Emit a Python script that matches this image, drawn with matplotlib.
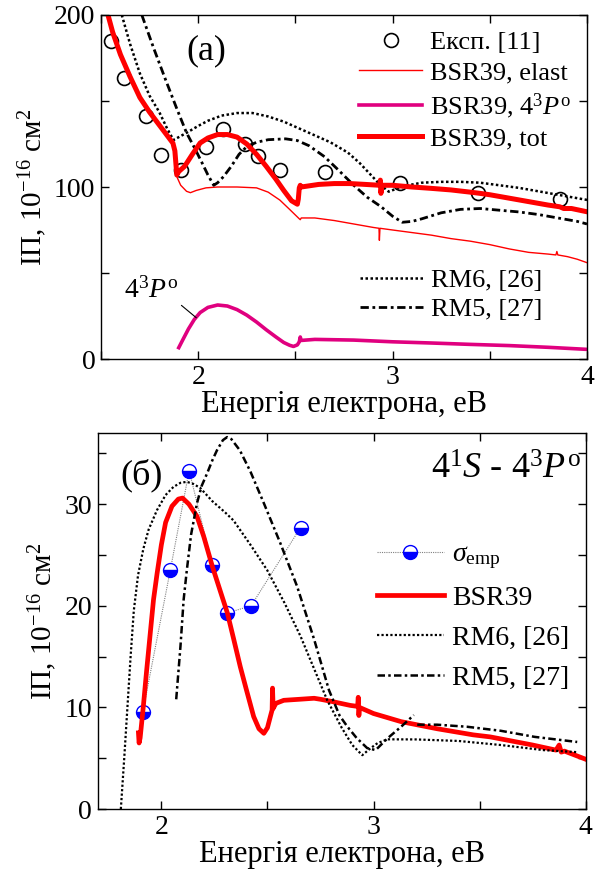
import numpy as np
import matplotlib
matplotlib.use("Agg")
import matplotlib.pyplot as plt
from matplotlib.ticker import MultipleLocator

plt.rcParams['font.family'] = ['Liberation Serif', 'DejaVu Serif']
plt.rcParams['mathtext.fontset'] = 'custom'
plt.rcParams['mathtext.rm'] = 'Liberation Serif'
plt.rcParams['mathtext.it'] = 'Liberation Serif:italic'
plt.rcParams['font.size'] = 20

# ---- панель (а): повний переріз ----
exp_x = [1.55, 1.62, 1.73, 1.81, 1.91, 2.04, 2.13, 2.24, 2.31, 2.42, 2.65, 3.04, 3.44, 3.86]
exp_y = [185, 163.5, 141, 118.6, 110, 123, 133.5, 125, 118, 110, 109, 102.5, 96.5, 93]

tot_x = [1.536, 1.56, 1.60, 1.65, 1.70, 1.75, 1.80, 1.84, 1.87, 1.88, 1.89, 1.90, 1.93, 1.97,
         2.01, 2.05, 2.10, 2.15, 2.20, 2.25, 2.30, 2.35, 2.40, 2.44, 2.48, 2.51, 2.515, 2.52,
         2.525, 2.53, 2.56, 2.62, 2.70, 2.78, 2.86, 2.935, 2.937, 2.94, 2.945, 3.0, 3.1, 3.2,
         3.3, 3.4, 3.45, 3.5, 3.6, 3.7, 3.8, 3.86, 3.88, 3.92, 4.0]
tot_y = [200, 190, 177, 164, 152, 143.5, 136, 130, 125.5, 121, 107, 109, 112, 119,
         125.6, 128.5, 130.5, 130.5, 129, 125, 119, 112, 104.5, 98, 92, 90, 93, 99.5,
         101, 100, 100.5, 101.5, 102, 102, 101.5, 101, 104, 96.3, 101, 101, 100, 99.2,
         98.3, 97, 96.3, 95.5, 93.5, 91.5, 89.5, 88.5, 87.5, 87.5, 85.6]

el_x = [1.87, 1.885, 1.89, 1.91, 1.94, 1.96, 1.99, 2.04, 2.1, 2.2, 2.3, 2.36, 2.42, 2.47, 2.52,
        2.525, 2.53, 2.6, 2.7, 2.8, 2.9, 2.93, 2.932, 2.935, 3.0, 3.1, 3.2, 3.3, 3.4, 3.5, 3.6,
        3.7, 3.8, 3.84, 3.845, 3.85, 3.9, 3.95, 4.0]
el_y = [125.5, 118, 106, 101, 97.5, 96.7, 98, 99.5, 100, 100, 99.5, 97, 92.4, 87, 81.5,
        81, 82, 82, 80.5, 78.5, 76.5, 76, 69, 76, 75, 73.5, 72, 70, 68.5, 66.5, 64,
        62, 61, 60.5, 62.5, 60.5, 59.5, 58, 56]

p3_x = [1.90, 1.92, 1.95, 1.98, 2.01, 2.05, 2.10, 2.15, 2.20, 2.25, 2.30, 2.35, 2.40, 2.44,
        2.47, 2.49, 2.51, 2.52, 2.525, 2.53, 2.6, 2.8, 3.0, 3.2, 3.4, 3.6, 3.8, 4.0]
p3_y = [6.6, 11, 17.5, 23, 27, 30, 31.4, 30.8, 28.7, 25.5, 21.5, 17, 12.8, 9.6,
        8, 7.3, 8.2, 10, 12.8, 10.8, 11.4, 11, 10, 9.3, 8.5, 7.8, 6.8, 5.6]

rm6a_x = [1.607, 1.65, 1.70, 1.75, 1.80, 1.84, 1.873, 1.90, 1.94, 2.0, 2.05, 2.12, 2.2, 2.28,
          2.36, 2.44, 2.52, 2.60, 2.68, 2.77, 2.83, 2.88, 2.93, 2.98, 3.02, 3.08, 3.15, 3.25,
          3.35, 3.45, 3.55, 3.65, 3.75, 3.85, 3.95, 4.0]
rm6a_y = [200, 183, 166, 153, 143.5, 134, 127.3, 129, 131.5, 135.5, 138.5, 141.5, 143, 143,
          141, 138, 134, 130, 126, 120, 114, 108, 102, 97.3, 99, 101, 102.5, 103,
          103, 102.5, 101, 99.5, 97.5, 95.5, 93.5, 92.5]

rm5a_x = [1.71, 1.77, 1.83, 1.89, 1.94, 1.98, 2.02, 2.05, 2.08, 2.10, 2.13, 2.17, 2.21, 2.25,
          2.30, 2.36, 2.45, 2.51, 2.57, 2.65, 2.72, 2.80, 2.87, 2.94, 3.0, 3.05, 3.1, 3.15,
          3.25, 3.35, 3.45, 3.55, 3.65, 3.75, 3.85, 3.95, 4.0]
rm5a_y = [200, 181, 163, 145.5, 131.5, 123, 114, 107, 101, 102.5, 106, 112, 119, 123.5,
          126, 127.5, 128, 127, 124, 117.6, 110, 101, 94, 88.6, 83, 79.5, 80, 81.5,
          85, 87, 87.5, 86.5, 85.5, 84, 82, 80, 78.5]

# ---- панель (б): 4^1S - 4^3P^o ----
emp_x = [1.912, 2.042, 2.131, 2.24, 2.311, 2.423, 2.656]
emp_y = [9.5, 23.5, 33.3, 24.0, 19.3, 20.0, 27.7]

bsr_x = [1.892, 1.895, 1.90, 1.915, 1.93, 1.95, 1.963, 1.98, 2.0, 2.02, 2.05, 2.08, 2.10, 2.13,
         2.168, 2.20, 2.24, 2.28, 2.311, 2.34, 2.372, 2.40, 2.435, 2.46, 2.483, 2.50, 2.515,
         2.522, 2.524, 2.527, 2.54, 2.577, 2.65, 2.72, 2.75, 2.80, 2.89, 2.925, 2.928, 2.931,
         2.934, 3.0, 3.13, 3.3, 3.47, 3.55, 3.65, 3.75, 3.86, 3.875, 3.885, 3.9, 3.95, 4.0]
bsr_y = [7.5, 6.5, 7.0, 10.1, 13.5, 17.8, 20.6, 23.2, 26, 28.2, 29.8, 30.5, 30.6, 30.0,
         28.8, 26.8, 23.9, 21.3, 19.3, 16.8, 14.0, 11.8, 9.1, 7.9, 7.45, 8.0, 9.2,
         9.75, 11.9, 9.9, 10.4, 10.7, 10.8, 10.9, 10.8, 10.6, 10.2, 10.1, 11.0, 9.2,
         10.0, 9.4, 8.6, 7.9, 7.3, 7.1, 6.7, 6.3, 5.8, 6.3, 5.6, 5.7, 5.3, 4.9]

rm6b_x = [1.809, 1.825, 1.84, 1.855, 1.87, 1.89, 1.915, 1.94, 1.979, 2.02, 2.057, 2.09,
          2.12, 2.15, 2.183, 2.24, 2.30, 2.34, 2.42, 2.499, 2.58, 2.656, 2.72, 2.782, 2.85,
          2.90, 2.947, 2.987, 3.02, 3.066, 3.2, 3.4, 3.6, 3.8, 3.96]
rm6b_y = [0, 5, 10, 15, 19.5, 23.0, 25.6, 27.5, 29.4, 30.9, 31.7, 32.1,
          32.2, 32.0, 31.6, 30.3, 29.2, 28.4, 26.0, 23.5, 20.3, 17, 13.8, 10.7, 8.0,
          6.3, 5.3, 6.0, 6.5, 6.86, 6.85, 6.7, 6.3, 5.8, 5.6]

rm5b_x1 = [2.07, 2.09, 2.105, 2.12, 2.14, 2.168, 2.19, 2.215, 2.24, 2.262, 2.29, 2.31, 2.33,
           2.37, 2.42, 2.483, 2.56, 2.64, 2.72, 2.79, 2.84, 2.877, 2.92, 2.97, 3.01, 3.066,
           3.13, 3.19]
rm5b_y1 = [10.8, 16, 20.6, 23.5, 27, 30.1, 31.8, 33.0, 34.3, 35.3, 36.3, 36.6, 36.4,
           35.3, 33.2, 30.1, 26.2, 21.9, 16.7, 11.7, 9.2, 8.1, 7.0, 6.0, 5.8, 6.96,
           8.1, 9.25]
rm5b_x2 = [3.206, 3.3, 3.44, 3.6, 3.76, 3.96]
rm5b_y2 = [8.3, 8.3, 8.1, 7.7, 7.1, 6.6]

dot = (0, (1, 1))
dashdot = (0, (3, 1.3, 1, 1.3))

fig = plt.figure(figsize=(5.98, 8.72), dpi=100)
ax1 = fig.add_axes([0.1689, 0.5883, 0.8127, 0.3945])
ax2 = fig.add_axes([0.1634, 0.0722, 0.816, 0.4312])

# (а)
h_exp, = ax1.plot(exp_x, exp_y, 'o', ms=10, mfc='none', mec='black', mew=1.2, label='Експ. [11]')
h_el, = ax1.plot(el_x, el_y, color='red', lw=1.0, label='BSR39, elast')
h_p3, = ax1.plot(p3_x, p3_y, color='#e0007f', lw=2.6, label='BSR39, $4^3P^\\mathrm{o}$')
h_rm6, = ax1.plot(rm6a_x, rm6a_y, color='black', lw=1.8, ls=dot, label='RM6, [26]')
h_rm5, = ax1.plot(rm5a_x, rm5a_y, color='black', lw=2.0, ls=dashdot, label='RM5, [27]')
h_tot, = ax1.plot(tot_x, tot_y, color='red', lw=3.6, label='BSR39, tot')

leg1 = ax1.legend(handles=[h_exp, h_el, h_p3, h_tot], loc='upper right',
                  bbox_to_anchor=(1.0, 1.0), frameon=False, fontsize=19,
                  handlelength=2.4, handletextpad=0.3, labelspacing=0.25, borderaxespad=0.2)
ax1.add_artist(leg1)
ax1.legend(handles=[h_rm6, h_rm5], loc='lower right', bbox_to_anchor=(0.93, 0.08),
           frameon=False, fontsize=19, handlelength=2.4, handletextpad=0.3,
           labelspacing=0.2, borderaxespad=0.0)

ax1.text(0.216, 0.895, '(a)', transform=ax1.transAxes, ha='center', va='center', fontsize=26)
ax1.annotate('$4^3P^\\mathrm{o}$', xy=(1.99, 24), xytext=(1.76, 40), fontsize=20,
             ha='center', va='center',
             arrowprops=dict(arrowstyle='-', color='black', lw=0.8, shrinkA=0, shrinkB=0,
                             relpos=(0.95, 0.1)))

ax1.set_xlim(1.5, 4)
ax1.set_ylim(0, 200)
ax1.xaxis.set_major_locator(MultipleLocator(1))
ax1.xaxis.set_minor_locator(MultipleLocator(0.5))
ax1.yaxis.set_major_locator(MultipleLocator(100))
ax1.yaxis.set_minor_locator(MultipleLocator(50))
ax1.set_xlabel('Енергія електрона, еВ', fontsize=22, labelpad=0)
ax1.set_ylabel('ІП, 10$^{-16}$ см$^2$', fontsize=21, labelpad=4)

# (б)
h_emp, = ax2.plot(emp_x, emp_y, color='gray', lw=0.8, ls=(0, (1, 1)), marker='o', ms=10,
                  fillstyle='bottom', mfc='blue', mfcalt='white', mec='blue', mew=1.0,
                  label='$\\sigma_\\mathrm{emp}$')
h_b, = ax2.plot(bsr_x, bsr_y, color='red', lw=3.4, label='BSR39')
h_b6, = ax2.plot(rm6b_x, rm6b_y, color='black', lw=1.6, ls=dot, label='RM6, [26]')
h_b5, = ax2.plot(rm5b_x1, rm5b_y1, color='black', lw=1.8, ls=dashdot, label='RM5, [27]')
ax2.plot(rm5b_x2, rm5b_y2, color='black', lw=1.8, ls=dashdot)
ax2.legend(handles=[h_emp, h_b, h_b6, h_b5], loc='upper right', bbox_to_anchor=(1.0, 0.755),
           frameon=False, fontsize=20, handlelength=2.4, handletextpad=0.3,
           labelspacing=0.52, borderaxespad=0.2)

ax2.text(0.089, 0.888, '(б)', transform=ax2.transAxes, ha='center', va='center', fontsize=26)
ax2.text(0.99, 0.90, '$4^1S$ - $4^3P^\\mathrm{o}$', transform=ax2.transAxes,
         ha='right', va='center', fontsize=26)

ax2.set_xlim(1.7, 4)
ax2.set_ylim(0, 37)
ax2.xaxis.set_major_locator(MultipleLocator(1))
ax2.xaxis.set_minor_locator(MultipleLocator(0.5))
ax2.yaxis.set_major_locator(MultipleLocator(10))
ax2.yaxis.set_minor_locator(MultipleLocator(5))
ax2.set_xlabel('Енергія електрона, еВ', fontsize=22, labelpad=0)
ax2.set_ylabel('ІП, 10$^{-16}$ см$^2$', fontsize=21, labelpad=4)

for ax in (ax1, ax2):
    ax.tick_params(which='both', direction='in', top=True, right=True, labelsize=20, width=1.0)
    ax.tick_params(which='major', length=6, pad=4)
    ax.tick_params(which='minor', length=6)
    for s in ax.spines.values():
        s.set_linewidth(1.0)

fig.savefig('out.png', dpi=100)
